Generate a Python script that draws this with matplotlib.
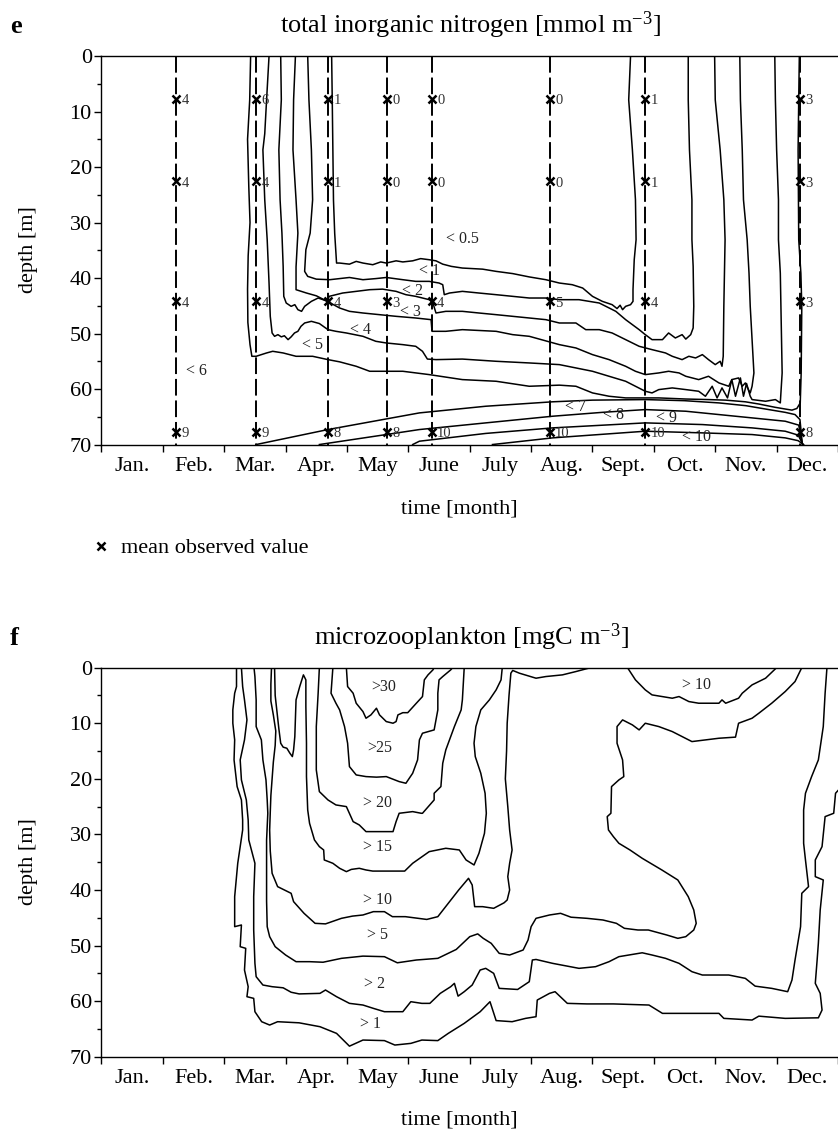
import numpy as np
import matplotlib.pyplot as plt
from matplotlib.lines import Line2D

plt.rcParams['font.family'] = ['Liberation Serif', 'DejaVu Serif']
plt.rcParams['mathtext.fontset'] = 'custom'
plt.rcParams['mathtext.rm'] = 'Liberation Serif'
plt.rcParams['mathtext.it'] = 'Liberation Serif:italic'
plt.rcParams['lines.scale_dashes'] = False

months = ['Jan.', 'Feb.', 'Mar.', 'Apr.', 'May', 'June', 'July', 'Aug.',
          'Sept.', 'Oct.', 'Nov.', 'Dec.']

# --- panel e: observation profiles (time in months, depth in m) ---
obs_time = [1.21, 2.52, 3.69, 4.65, 5.38, 7.30, 8.86, 11.38]
obs_depth = [7.7, 22.6, 44.2, 67.7]
obs_values = [[4, 4, 4, 9], [6, 4, 4, 9], [1, 1, 4, 8], [0, 0, 3, 8],
              [0, 0, 4, 10], [0, 0, 5, 10], [1, 1, 4, 10], [3, 3, 3, 8]]

# --- panel e: isolines, (month, depth) ---
din_05 = [(3.75, 0), (3.76, 8), (3.77, 17), (3.78, 26), (3.80, 32), (3.83, 37.3), (3.88, 37.3),
          (4.04, 37.5), (4.15, 37.0), (4.26, 37.3), (4.42, 37.6), (4.55, 37.1), (4.64, 37.3),
          (4.80, 36.9), (4.91, 37.1), (5.07, 36.9), (5.20, 36.5), (5.34, 36.7), (5.45, 36.9),
          (5.56, 37.5), (5.70, 37.9), (5.88, 38.2), (6.21, 38.4), (6.43, 38.8), (6.70, 39.2),
          (6.97, 39.8), (7.24, 40.3), (7.46, 40.9), (7.67, 41.2), (7.84, 41.8), (8.00, 43.3),
          (8.16, 44.2), (8.32, 44.8), (8.40, 45.5), (8.45, 44.9), (8.49, 45.7), (8.54, 45.1),
          (8.62, 44.8), (8.66, 44.2), (8.66, 42.1), (8.68, 36.7), (8.71, 33.1), (8.70, 25.9),
          (8.65, 16.9), (8.59, 7.9), (8.62, 0)]
din_1 = [(3.36, 0), (3.38, 7.9), (3.42, 16.9), (3.44, 25.9), (3.40, 31.9), (3.33, 34.9),
         (3.31, 38.8), (3.36, 39.7), (3.50, 40.2), (3.72, 40.3), (3.88, 40.1), (4.04, 39.9),
         (4.26, 40.3), (4.47, 40.1), (4.64, 39.9), (4.91, 40.3), (5.12, 40.6), (5.34, 40.6),
         (5.50, 40.9), (5.56, 41.2), (5.585, 43.0), (5.67, 42.7), (5.88, 42.4), (6.15, 42.7),
         (6.43, 43.0), (6.70, 43.3), (6.97, 43.6), (7.24, 43.6), (7.46, 43.9), (7.78, 43.9),
         (8.11, 44.5), (8.38, 46.0), (8.54, 47.5), (8.76, 49.3), (8.86, 50.2), (8.97, 51.1),
         (9.14, 51.1), (9.24, 49.9), (9.35, 50.8), (9.46, 50.2), (9.52, 51.0), (9.60, 50.2),
         (9.64, 49.0), (9.65, 45.1), (9.64, 37.9), (9.62, 33.1), (9.62, 25.9), (9.58, 16.9),
         (9.56, 7.9), (9.56, 0)]
din_2 = [(3.16, 0), (3.13, 7.9), (3.12, 16.9), (3.17, 25.9), (3.20, 31.9), (3.17, 38.0),
         (3.17, 42.1), (3.34, 42.7), (3.50, 43.2), (3.68, 44.2), (3.71, 43.3), (3.93, 42.7),
         (4.15, 42.4), (4.37, 42.1), (4.58, 42.0), (4.80, 42.4), (4.96, 43.0), (5.12, 43.3),
         (5.34, 43.9), (5.40, 44.5), (5.45, 46.3), (5.61, 46.0), (5.88, 46.0), (6.15, 46.3),
         (6.43, 46.6), (6.70, 46.9), (6.97, 47.2), (7.24, 47.5), (7.46, 48.1), (7.73, 48.1),
         (7.89, 49.3), (8.11, 49.3), (8.32, 49.9), (8.54, 51.1), (8.76, 52.3), (8.97, 52.9),
         (9.19, 53.5), (9.30, 54.1), (9.46, 54.7), (9.57, 54.1), (9.68, 54.4), (9.79, 53.8),
         (9.89, 54.7), (10.00, 55.6), (10.08, 55.0), (10.11, 55.9), (10.13, 54.1), (10.14, 45.1),
         (10.16, 33.1), (10.14, 25.9), (10.08, 16.9), (10.00, 7.9), (9.99, 0)]
din_3 = [(2.92, 0), (2.93, 7.9), (2.89, 16.9), (2.91, 25.9), (2.94, 31.9), (2.96, 37.9),
         (2.97, 43.3), (3.01, 44.5), (3.09, 45.1), (3.15, 44.8), (3.20, 45.7), (3.26, 46.0),
         (3.31, 45.1), (3.42, 44.2), (3.53, 43.6), (3.61, 43.9), (3.68, 44.2), (3.88, 45.4),
         (4.04, 46.0), (4.26, 46.3), (4.53, 46.6), (4.80, 46.9), (5.12, 47.2), (5.37, 47.5),
         (5.385, 49.6), (5.61, 49.6), (5.88, 49.3), (6.43, 49.6), (6.70, 50.2), (6.97, 50.5),
         (7.46, 52.0), (7.73, 52.6), (8.00, 53.8), (8.27, 54.7), (8.54, 55.9), (8.70, 56.8),
         (8.86, 57.4), (9.08, 57.1), (9.24, 56.8), (9.41, 57.1), (9.52, 57.7), (9.73, 58.3),
         (9.89, 57.7), (10.06, 58.9), (10.22, 59.5), (10.27, 58.3), (10.38, 58.0), (10.44, 59.5),
         (10.49, 58.9), (10.54, 60.1), (10.57, 60.7), (10.60, 59.5), (10.63, 57.1), (10.57, 45.1),
         (10.55, 39.1), (10.52, 33.1), (10.46, 25.9), (10.44, 16.9), (10.41, 7.9), (10.40, 0)]
din_4 = [(2.73, 0), (2.69, 7.9), (2.66, 14.0), (2.63, 16.9), (2.66, 25.9), (2.70, 33.1),
         (2.73, 40.9), (2.75, 46.9), (2.78, 49.9), (2.82, 50.5), (2.875, 50.2), (2.93, 50.6),
         (2.98, 50.4), (3.04, 51.1), (3.09, 50.6), (3.145, 49.9), (3.20, 49.6), (3.25, 48.7),
         (3.31, 48.1), (3.42, 47.8), (3.55, 48.2), (3.69, 49.3), (3.82, 49.6), (3.99, 49.9),
         (4.26, 50.5), (4.47, 51.4), (4.64, 51.7), (4.91, 52.0), (5.12, 52.3), (5.23, 53.2),
         (5.31, 54.6), (5.45, 54.7), (5.88, 54.6), (6.43, 55.0), (6.97, 55.3), (7.46, 55.6),
         (7.73, 56.2), (8.00, 56.8), (8.27, 57.7), (8.54, 58.6), (8.70, 59.5), (8.86, 60.4),
         (8.97, 60.7), (9.08, 60.1), (9.30, 59.8), (9.52, 60.1), (9.73, 60.4), (9.84, 61.3),
         (9.95, 59.5), (10.03, 61.6), (10.11, 59.8), (10.20, 61.6), (10.27, 58.3), (10.33, 61.3),
         (10.41, 58.0), (10.46, 61.3), (10.51, 59.0), (10.57, 61.3), (10.60, 61.9), (10.82, 62.2),
         (10.98, 61.9), (11.06, 62.5), (11.09, 57.1), (11.08, 51.1), (11.06, 39.1), (11.03, 33.1),
         (11.03, 25.9), (11.00, 16.9), (10.98, 7.9), (10.97, 0)]
din_5 = [(2.43, 0), (2.415, 7.9), (2.38, 15.0), (2.40, 23.5), (2.42, 30.0), (2.39, 36.0),
         (2.38, 42.0), (2.385, 48.0), (2.42, 52.0), (2.45, 54.1), (2.52, 54.1), (2.69, 53.5),
         (2.79, 53.2), (2.96, 53.5), (3.17, 54.1), (3.44, 54.1), (3.69, 54.7), (3.88, 55.1),
         (4.15, 55.9), (4.37, 56.8), (4.91, 56.8), (5.34, 57.4), (5.88, 58.3), (6.43, 58.6),
         (6.97, 59.5), (7.46, 59.3), (7.73, 59.5), (8.00, 60.7), (8.27, 61.3), (8.54, 61.6),
         (8.81, 61.6), (9.08, 61.6), (9.52, 61.8), (9.89, 61.9), (10.17, 62.0), (10.49, 62.3),
         (10.71, 62.7), (10.98, 63.3), (11.14, 63.6), (11.25, 63.8), (11.33, 63.5), (11.385, 62.5),
         (11.40, 57.1), (11.41, 45.1), (11.395, 39.1), (11.36, 33.1), (11.35, 16.9), (11.36, 7.9),
         (11.37, 0)]
din_6 = [(2.52, 70), (3.69, 67.3), (5.18, 64.3), (6.26, 63.1), (7.35, 62.3), (8.00, 62.0),
         (8.86, 61.9), (9.50, 62.1), (10.06, 62.5), (10.50, 63.0), (10.87, 63.7), (11.14, 64.2),
         (11.30, 64.6), (11.38, 65.5), (11.42, 70)]
din_7 = [(3.55, 70), (4.64, 68.2), (5.18, 67.3), (6.26, 66.1), (7.35, 64.9), (8.16, 64.2),
         (8.86, 63.7), (9.52, 64.0), (10.33, 64.9), (11.14, 65.8), (11.36, 66.5), (11.42, 70)]
din_8 = [(5.07, 70), (5.18, 69.4), (6.26, 68.0), (7.35, 67.0), (8.86, 66.1), (9.79, 66.4),
         (10.60, 67.0), (11.14, 67.6), (11.35, 68.3), (11.43, 70)]
din_9 = [(6.37, 70), (7.35, 68.8), (8.86, 67.6), (9.79, 67.9), (10.60, 68.2), (11.14, 68.8),
         (11.35, 69.3), (11.44, 70)]
din_lines = [din_05, din_1, din_2, din_3, din_4, din_5, din_6, din_7, din_8, din_9]

din_label_text = ['< 0.5', '< 1', '< 2', '< 3', '< 4', '< 5', '< 6', '< 7', '< 8', '< 9', '< 10']
din_label_t = [5.88, 5.35, 5.06, 5.03, 4.22, 3.43, 1.55, 7.73, 8.35, 9.20, 9.70]
din_label_d = [33.0, 38.8, 42.3, 46.1, 49.3, 52.0, 56.7, 63.2, 64.6, 65.3, 68.6]

# --- panel f: isolines, (month, depth) ---
mz_1 = [(2.20, 0), (2.20, 3.4), (2.17, 4.6), (2.14, 7.6), (2.14, 10.0), (2.17, 13.0),
        (2.16, 16.6), (2.21, 21.4), (2.28, 23.8), (2.30, 27.4), (2.30, 29.2), (2.22, 35.2),
        (2.17, 41.2), (2.17, 46.6), (2.28, 46.3), (2.26, 50.2), (2.35, 50.5), (2.33, 54.4),
        (2.39, 57.4), (2.37, 59.2), (2.48, 59.5), (2.50, 61.9), (2.61, 63.7), (2.74, 64.3),
        (2.87, 63.7), (3.22, 63.9), (3.56, 64.6), (3.83, 65.8), (4.04, 68.1), (4.26, 67.0),
        (4.61, 67.1), (4.78, 67.9), (5.04, 67.6), (5.22, 67.0), (5.48, 67.1), (5.65, 65.8),
        (5.91, 64.0), (6.17, 61.9), (6.33, 60.1), (6.43, 63.5), (6.69, 63.7), (6.91, 63.1),
        (7.08, 62.8), (7.10, 59.8), (7.30, 58.6), (7.39, 58.3), (7.59, 60.4), (7.91, 60.5),
        (8.34, 60.5), (8.92, 60.7), (9.14, 62.2), (10.06, 62.2), (10.14, 63.1), (10.60, 63.4),
        (10.71, 62.7), (11.14, 63.1), (11.68, 63.0), (11.74, 61.6), (11.71, 58.6), (11.63, 56.8),
        (11.66, 52.6), (11.68, 49.6), (11.71, 43.6), (11.76, 38.2), (11.63, 37.6), (11.63, 34.6),
        (11.74, 32.2), (11.79, 26.8), (11.93, 26.2), (11.96, 22.6), (12.05, 21.5)]
mz_2 = [(2.28, 0), (2.30, 3.4), (2.33, 5.8), (2.37, 9.4), (2.33, 13.0), (2.26, 16.6),
        (2.28, 20.2), (2.36, 23.8), (2.39, 27.4), (2.40, 31.0), (2.50, 35.2), (2.48, 41.2),
        (2.48, 47.2), (2.50, 53.2), (2.52, 55.6), (2.63, 57.1), (2.78, 57.4), (2.96, 57.6),
        (3.09, 58.4), (3.22, 58.7), (3.56, 58.6), (3.65, 58.0), (3.83, 59.2), (4.04, 60.4),
        (4.26, 60.7), (4.43, 61.3), (4.61, 61.9), (4.91, 61.9), (5.04, 60.1), (5.22, 60.4),
        (5.35, 60.4), (5.52, 58.6), (5.69, 57.4), (5.75, 56.8), (5.81, 59.1), (5.91, 58.3),
        (6.04, 57.1), (6.17, 54.4), (6.26, 54.1), (6.39, 55.0), (6.48, 57.7), (6.78, 57.9),
        (6.97, 56.5), (7.02, 52.6), (7.08, 52.5), (7.35, 53.2), (7.78, 54.1), (8.05, 53.8),
        (8.27, 52.9), (8.43, 52.0), (8.81, 51.3), (8.97, 51.7), (9.19, 52.3), (9.41, 53.2),
        (9.62, 54.7), (9.79, 55.3), (10.22, 55.3), (10.49, 55.9), (10.65, 57.3), (10.92, 57.7),
        (11.18, 58.3), (11.25, 56.2), (11.30, 52.6), (11.39, 46.6), (11.41, 40.6), (11.52, 39.4),
        (11.47, 34.6), (11.44, 31.6), (11.44, 25.6), (11.47, 22.6), (11.57, 19.6), (11.68, 16.6),
        (11.76, 10.6), (11.79, 4.6), (11.82, 0)]
mz_5 = [(2.485, 0), (2.50, 1.6), (2.52, 5.8), (2.52, 10.6), (2.605, 13.0), (2.63, 16.6),
        (2.68, 20.2), (2.70, 23.8), (2.71, 26.2), (2.70, 28.6), (2.69, 31.0), (2.69, 35.0),
        (2.69, 42.0), (2.70, 46.6), (2.74, 48.4), (2.83, 50.2), (3.00, 51.7), (3.17, 52.9),
        (3.39, 52.9), (3.61, 53.0), (3.91, 52.3), (4.26, 51.9), (4.61, 52.0), (4.82, 53.1),
        (5.13, 52.6), (5.48, 52.3), (5.78, 50.7), (6.00, 48.4), (6.13, 47.9), (6.22, 48.7),
        (6.35, 49.6), (6.48, 51.4), (6.65, 51.7), (6.87, 50.8), (6.95, 49.0), (7.00, 46.6),
        (7.08, 45.1), (7.30, 44.5), (7.48, 44.2), (7.65, 44.9), (7.91, 45.1), (8.17, 45.4),
        (8.39, 46.0), (8.52, 46.9), (8.74, 47.2), (8.91, 47.2), (9.21, 48.1), (9.39, 48.7),
        (9.52, 48.4), (9.65, 47.2), (9.69, 46.0), (9.65, 43.6), (9.56, 41.2), (9.39, 38.2),
        (9.13, 36.4), (8.81, 34.3), (8.61, 32.8), (8.43, 31.6), (8.34, 30.4), (8.26, 29.2),
        (8.24, 26.8), (8.30, 26.2), (8.31, 21.4), (8.43, 20.2), (8.51, 19.6), (8.49, 16.6),
        (8.40, 13.6), (8.40, 10.6), (8.49, 9.4), (8.65, 10.3), (8.76, 11.2), (8.86, 10.0),
        (9.08, 10.6), (9.30, 11.5), (9.46, 12.4), (9.62, 13.3), (9.84, 13.0), (10.06, 12.7),
        (10.33, 12.5), (10.38, 10.0), (10.60, 9.1), (10.71, 8.2), (10.92, 6.4), (11.14, 4.3),
        (11.30, 2.5), (11.41, 0)]
mz_10 = [(2.77, 0), (2.76, 3.0), (2.76, 6.0), (2.80, 8.5), (2.84, 11.4), (2.83, 14.0),
         (2.80, 17.0), (2.78, 20.0), (2.76, 23.0), (2.75, 26.0), (2.74, 29.2), (2.75, 33.0),
         (2.78, 37.0), (2.87, 39.4), (3.09, 40.6), (3.13, 42.1), (3.30, 44.2), (3.48, 46.0),
         (3.65, 46.1), (3.91, 45.1), (4.09, 44.7), (4.26, 44.5), (4.43, 43.9), (4.61, 43.9),
         (4.74, 44.8), (4.95, 44.8), (5.30, 45.3), (5.48, 44.8), (5.65, 42.4), (5.82, 40.0),
         (5.98, 37.9), (6.04, 39.1), (6.08, 43.0), (6.21, 43.0), (6.39, 43.3), (6.56, 42.3),
         (6.61, 41.8), (6.65, 40.0), (6.62, 37.6), (6.65, 35.2), (6.69, 32.8), (6.65, 29.2),
         (6.62, 25.0), (6.58, 20.0), (6.60, 15.0), (6.61, 10.0), (6.64, 5.0), (6.67, 1.0),
         (6.70, 0.5), (6.81, 1.0), (7.08, 1.9), (7.24, 1.6), (7.51, 1.3), (7.73, 0.7), (7.97, 0)]
mz_10b = [(8.57, 0), (8.70, 2.2), (8.86, 4.0), (8.97, 4.9), (9.30, 5.5), (9.41, 5.2),
          (9.57, 6.1), (9.73, 6.4), (10.06, 6.4), (10.11, 5.8), (10.17, 6.4), (10.38, 5.5),
          (10.44, 4.6), (10.60, 3.1), (10.82, 1.9), (11.00, 0)]
mz_15 = [(2.82, 0), (2.83, 5.0), (2.86, 8.0), (2.89, 11.0), (2.92, 13.6), (2.96, 14.3),
         (3.02, 14.5), (3.07, 15.4), (3.11, 16.0), (3.13, 14.8), (3.15, 12.4), (3.17, 5.8),
         (3.23, 3.4), (3.29, 1.3), (3.33, 2.2), (3.33, 7.0), (3.34, 13.6), (3.34, 19.6),
         (3.36, 25.6), (3.39, 28.0), (3.47, 31.0), (3.55, 32.2), (3.62, 32.8), (3.63, 34.6),
         (3.77, 35.2), (3.88, 36.1), (3.99, 36.7), (4.07, 36.3), (4.20, 36.1), (4.31, 36.4),
         (4.42, 36.6), (4.58, 36.6), (4.94, 36.6), (5.07, 35.2), (5.34, 33.1), (5.61, 32.5),
         (5.83, 32.8), (5.94, 34.6), (6.07, 35.5), (6.15, 33.4), (6.24, 29.8), (6.27, 26.2),
         (6.25, 22.6), (6.18, 19.0), (6.09, 16.0), (6.07, 13.6), (6.10, 10.6), (6.18, 7.6),
         (6.32, 5.8), (6.43, 4.0), (6.51, 2.2), (6.53, 0)]
mz_20 = [(3.55, 0), (3.53, 4.6), (3.50, 10.6), (3.50, 18.4), (3.55, 22.3), (3.69, 23.8),
         (3.82, 24.7), (3.99, 25.0), (4.10, 27.7), (4.20, 28.3), (4.31, 29.5), (4.48, 29.5),
         (4.75, 29.5), (4.80, 27.7), (4.85, 26.2), (5.07, 25.9), (5.21, 26.2), (5.23, 26.2),
         (5.42, 23.8), (5.42, 22.6), (5.53, 21.4), (5.56, 17.2), (5.61, 14.8), (5.75, 10.6),
         (5.86, 7.6), (5.88, 5.8), (5.91, 0)]
mz_25 = [(3.77, 0), (3.74, 4.6), (3.82, 6.4), (3.88, 7.6), (3.96, 10.6), (4.01, 13.6),
         (4.04, 17.8), (4.15, 19.3), (4.31, 19.6), (4.48, 19.7), (4.64, 19.6), (4.85, 20.5),
         (4.96, 20.8), (5.07, 19.0), (5.15, 16.6), (5.18, 13.0), (5.23, 11.8), (5.42, 11.2),
         (5.48, 7.6), (5.48, 4.6), (5.50, 2.2), (5.56, 1.6), (5.69, 0.4), (5.72, 0)]
mz_30 = [(3.99, 0), (4.01, 3.4), (4.10, 4.6), (4.15, 6.4), (4.26, 7.9), (4.31, 9.1),
         (4.39, 8.5), (4.48, 7.3), (4.53, 8.5), (4.64, 9.7), (4.75, 10.0), (4.80, 9.7),
         (4.83, 8.5), (4.91, 8.1), (4.99, 8.1), (5.13, 6.4), (5.18, 5.8), (5.23, 5.2),
         (5.26, 2.2), (5.32, 1.3), (5.40, 0.4), (5.42, 0)]
mz_lines = [mz_1, mz_2, mz_5, mz_10, mz_10b, mz_15, mz_20, mz_25, mz_30]

mz_label_text = ['>30', '>25', '> 20', '> 15', '> 10', '> 5', '> 2', '> 1', '> 10']
mz_label_t = [4.59, 4.53, 4.49, 4.50, 4.50, 4.49, 4.45, 4.38, 9.69]
mz_label_d = [3.5, 14.5, 24.3, 32.2, 41.8, 48.1, 56.9, 64.1, 3.2]

fig = plt.figure(figsize=(8.38, 11.32), dpi=100)
ax1 = fig.add_axes([0.1211, 0.6073, 0.8789, 0.3432])
ax2 = fig.add_axes([0.1211, 0.0665, 0.8789, 0.3437])

for ax in (ax1, ax2):
    ax.set_xlim(0, 12)
    ax.set_ylim(70, 0)
    ax.set_xticks(np.arange(13))
    ax.set_xticklabels([])
    ax.set_xticks(np.arange(12) + 0.5, minor=True)
    ax.set_xticklabels(months, minor=True)
    ax.set_yticks(np.arange(0, 71, 10))
    ax.set_yticks(np.arange(5, 70, 10), minor=True)
    ax.tick_params(axis='x', which='major', direction='out', length=5, width=1)
    ax.tick_params(axis='x', which='minor', length=0, labelsize=16, pad=9)
    ax.tick_params(axis='y', which='major', direction='out', length=5, width=1,
                   labelsize=16, pad=2)
    ax.tick_params(axis='y', which='minor', direction='out', length=3, width=1)
    ax.spines['right'].set_visible(False)
    for s in ('left', 'bottom', 'top'):
        ax.spines[s].set_linewidth(1.0)

# panel e
for line in din_lines:
    t, d = zip(*line)
    ax1.plot(t, d, color='black', lw=1.1)
for t, vals in zip(obs_time, obs_values):
    ax1.plot([t, t], [0, 70], color='black', lw=1.4, dashes=(12, 3.5))
    ax1.plot([t] * len(obs_depth), obs_depth, ls='none', marker='x', ms=5.5,
             mew=1.8, color='black')
    for d, v in zip(obs_depth, vals):
        ax1.text(t + 0.09, d + 0.3, str(v), fontsize=10.5, color='#333333',
                 ha='left', va='center')
for txt, t, d in zip(din_label_text, din_label_t, din_label_d):
    ax1.text(t, d, txt, fontsize=11.5, color='#222222', ha='center', va='center')

# panel f
for line in mz_lines:
    t, d = zip(*line)
    ax2.plot(t, d, color='black', lw=1.1)
for txt, t, d in zip(mz_label_text, mz_label_t, mz_label_d):
    ax2.text(t, d, txt, fontsize=11.5, color='#222222', ha='center', va='center')

# titles and labels
fig.text(0.561, 1 - 33 / 1132, r'total inorganic nitrogen [mmol m$^{-3}$]',
         ha='center', va='baseline', fontsize=19)
fig.text(0.012, 1 - 33 / 1132, 'e', fontsize=19, fontweight='bold', va='baseline')
fig.text(0.5627, 1 - 645 / 1132, r'microzooplankton [mgC m$^{-3}$]',
         ha='center', va='baseline', fontsize=19)
fig.text(0.012, 1 - 645 / 1132, 'f', fontsize=19, fontweight='bold', va='baseline')

for yc in (1 - 250 / 1132, 1 - 862 / 1132):
    fig.text(0.034, yc, 'depth [m]', rotation=90, ha='center', va='center', fontsize=16)
for yc in (1 - 509 / 1132, 1 - 1120 / 1132):
    fig.text(0.5477, yc, 'time [month]', ha='center', va='center', fontsize=16)

handle = Line2D([], [], ls='none', marker='x', ms=5.5, mew=1.8, color='black')
fig.legend([handle], ['mean observed value'], loc='center left',
           bbox_to_anchor=(0.110, 1 - 548 / 1132), frameon=False, fontsize=16,
           handlelength=0.8, handletextpad=0.5, borderpad=0, borderaxespad=0)

fig.savefig('out.png', dpi=100)
